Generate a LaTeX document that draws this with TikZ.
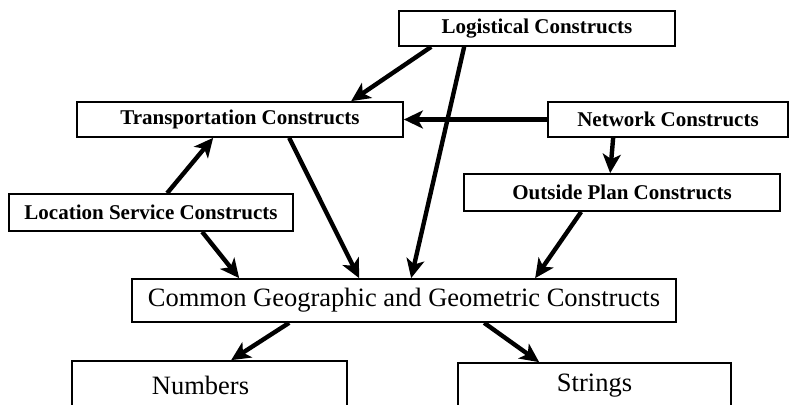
\documentclass[tikz,border=0pt]{standalone}
\usepackage{fontspec}
\setmainfont{Liberation Serif}
\usetikzlibrary{arrows.meta}
\begin{document}
\begin{tikzpicture}[x=1pt,y=1pt,
  box/.style={draw, line width=1.7pt, rectangle, inner sep=0pt, align=center},
  small/.style={box, font=\fontsize{21}{23}\selectfont\bfseries},
  big/.style={box, font=\fontsize{26.5}{28}\selectfont},
  arr/.style={line width=4.4pt, -{Stealth[length=19pt,width=18pt,inset=5pt]}}]
\useasboundingbox (0,0) rectangle (794,404);
% construct boxes
\node[small, minimum width=276pt, minimum height=35pt] (logi) at (537,375.5) {Logistical Constructs};
\node[small, minimum width=326pt, minimum height=35pt] (trans) at (240,284.5) {Transportation Constructs};
\node[small, minimum width=240pt, minimum height=35pt] (net) at (668,284.5) {Network Constructs};
\node[small, minimum width=316pt, minimum height=37pt] (outp) at (622,211.5) {Outside Plan Constructs};
\node[small, minimum width=284pt, minimum height=37pt] (loc) at (151,191.5) {Location Service Constructs};
\node[big, minimum width=544pt, minimum height=43pt] (comm) at (404,103.5) {Common Geographic and Geometric Constructs};
\node[big, minimum width=275pt, minimum height=48pt] (num) at (209.5,19) {\hspace*{-18pt}Numbers};
\node[big, minimum width=273pt, minimum height=46pt] (str) at (594.5,18) {Strings};
% dependencies
\draw[arr] ([xshift=33pt]logi.south west) -- ([xshift=275pt]trans.north west);
\draw[arr] ([xshift=66pt]logi.south west) -- ([xshift=280pt]comm.north west);
\draw[arr] (net.west) -- (trans.east);
\draw[arr] ([xshift=66pt]net.south west) -- ([xshift=147pt]outp.north west);
\draw[arr] ([xshift=159pt]loc.north west) -- ([xshift=137pt]trans.south west);
\draw[arr] ([xshift=194pt]loc.south west) -- ([xshift=108pt]comm.north west);
\draw[arr] ([xshift=213pt]trans.south west) -- ([xshift=228pt]comm.north west);
\draw[arr] ([xshift=118pt]outp.south west) -- ([xshift=404pt]comm.north west);
\draw[arr] ([xshift=158pt]comm.south west) -- ([xshift=160pt]num.north west);
\draw[arr] ([xshift=353pt]comm.south west) -- ([xshift=82pt]str.north west);
\end{tikzpicture}
\end{document}
